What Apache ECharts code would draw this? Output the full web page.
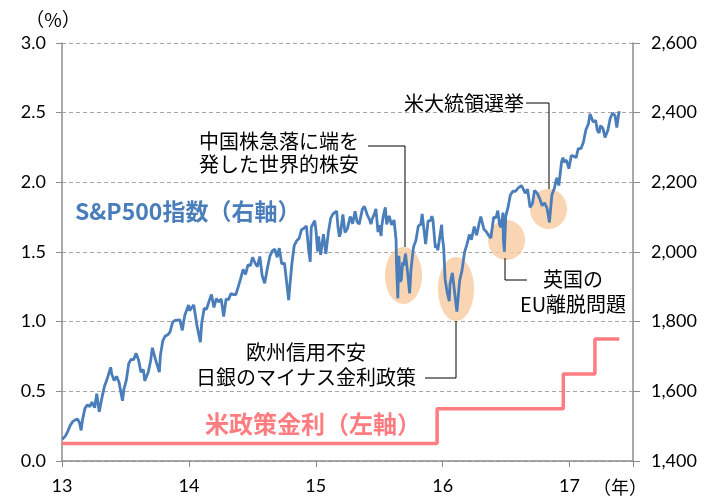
<!DOCTYPE html>
<html>
<head>
<meta charset="utf-8">
<script src="https://cdn.jsdelivr.net/npm/echarts@6/dist/echarts.min.js"></script>
<style>
  html, body { margin: 0; padding: 0; background: #fff; }
  #chart { width: 716px; height: 498px; }
</style>
</head>
<body>
<div id="chart"></div>
<script>
  // S&P500 (right axis) - roughly weekly closes plus the big intraweek lows/highs
  var spxDates = [
    '2013-01-02','2013-01-04','2013-01-11','2013-01-18','2013-01-25','2013-02-01','2013-02-08','2013-02-15','2013-02-20','2013-02-25',
    '2013-03-01','2013-03-08','2013-03-15','2013-03-22','2013-03-28','2013-04-05','2013-04-11','2013-04-18','2013-04-26','2013-05-03',
    '2013-05-10','2013-05-21','2013-05-24','2013-05-31','2013-06-07','2013-06-14','2013-06-24','2013-06-28','2013-07-05','2013-07-12',
    '2013-07-19','2013-07-26','2013-08-02','2013-08-09','2013-08-16','2013-08-23','2013-08-27','2013-09-06','2013-09-13','2013-09-18',
    '2013-09-27','2013-10-08','2013-10-11','2013-10-18','2013-10-25','2013-11-01','2013-11-08','2013-11-15','2013-11-22','2013-11-27',
    '2013-12-06','2013-12-13','2013-12-20','2013-12-31',
    '2014-01-03','2014-01-10','2014-01-15','2014-01-24','2014-02-03','2014-02-07','2014-02-14','2014-02-21','2014-02-28','2014-03-07',
    '2014-03-14','2014-03-21','2014-03-28','2014-04-04','2014-04-11','2014-04-18','2014-04-25','2014-05-02','2014-05-09','2014-05-16',
    '2014-05-23','2014-05-30','2014-06-06','2014-06-13','2014-06-20','2014-06-27','2014-07-03','2014-07-11','2014-07-17','2014-07-24',
    '2014-07-31','2014-08-07','2014-08-15','2014-08-22','2014-08-29','2014-09-05','2014-09-12','2014-09-18','2014-09-25','2014-10-03',
    '2014-10-10','2014-10-15','2014-10-17','2014-10-24','2014-10-31','2014-11-07','2014-11-14','2014-11-21','2014-11-28','2014-12-05',
    '2014-12-12','2014-12-16','2014-12-19','2014-12-29',
    '2015-01-02','2015-01-06','2015-01-09','2015-01-15','2015-01-23','2015-01-30','2015-02-06','2015-02-13','2015-02-20','2015-03-02',
    '2015-03-06','2015-03-10','2015-03-13','2015-03-20','2015-03-26','2015-04-02','2015-04-10','2015-04-17','2015-04-24','2015-04-30',
    '2015-05-06','2015-05-15','2015-05-21','2015-05-29','2015-06-05','2015-06-09','2015-06-12','2015-06-19','2015-06-23','2015-06-29',
    '2015-07-02','2015-07-08','2015-07-10','2015-07-15','2015-07-20','2015-07-24','2015-07-31','2015-08-07','2015-08-11','2015-08-14',
    '2015-08-20','2015-08-21','2015-08-25','2015-08-28','2015-09-01','2015-09-04','2015-09-08','2015-09-11','2015-09-16','2015-09-22',
    '2015-09-28','2015-10-02','2015-10-09','2015-10-16','2015-10-23','2015-10-30','2015-11-03','2015-11-13','2015-11-20','2015-11-27',
    '2015-12-01','2015-12-04','2015-12-11','2015-12-14','2015-12-18','2015-12-29','2015-12-31',
    '2016-01-04','2016-01-08','2016-01-13','2016-01-15','2016-01-20','2016-01-22','2016-01-29','2016-02-01','2016-02-05','2016-02-08',
    '2016-02-11','2016-02-19','2016-02-26','2016-03-04','2016-03-11','2016-03-18','2016-03-24','2016-04-01','2016-04-08','2016-04-15',
    '2016-04-20','2016-04-29','2016-05-06','2016-05-13','2016-05-19','2016-05-27','2016-06-03','2016-06-08','2016-06-13','2016-06-17',
    '2016-06-23','2016-06-24','2016-06-27','2016-07-01','2016-07-08','2016-07-14','2016-07-22','2016-07-29','2016-08-05','2016-08-15',
    '2016-08-19','2016-08-26','2016-09-02','2016-09-09','2016-09-16','2016-09-22','2016-09-30','2016-10-07','2016-10-14','2016-10-21',
    '2016-10-28','2016-11-04','2016-11-11','2016-11-18','2016-11-25','2016-12-01','2016-12-09','2016-12-13','2016-12-16','2016-12-23',
    '2016-12-30',
    '2017-01-06','2017-01-13','2017-01-20','2017-01-26','2017-02-03','2017-02-10','2017-02-17','2017-02-24','2017-03-01','2017-03-10',
    '2017-03-17','2017-03-22','2017-03-27','2017-03-31','2017-04-07','2017-04-13','2017-04-21','2017-04-28','2017-05-05','2017-05-12',
    '2017-05-17','2017-05-22','2017-05-24'
  ];
  var spxValues = [
    1462,1466,1472,1486,1503,1513,1518,1520,1511,1488,
    1518,1551,1561,1556,1569,1553,1593,1541,1582,1614,
    1633,1669,1650,1631,1643,1626,1573,1606,1632,1680,
    1692,1691,1709,1691,1655,1663,1630,1655,1688,1725,
    1691,1655,1703,1745,1759,1762,1771,1798,1804,1807,
    1805,1775,1818,1848,
    1831,1842,1848,1790,1741,1797,1838,1836,1859,1878,
    1841,1866,1857,1865,1815,1865,1863,1881,1878,1878,
    1900,1924,1950,1936,1963,1961,1985,1967,1958,1987,
    1931,1910,1955,1988,2003,2008,1985,2011,1966,1968,
    1906,1862,1887,1964,2018,2032,2039,2064,2068,2075,
    2002,1972,2071,2090,
    2058,2002,2045,1992,2051,1995,2055,2097,2110,2117,
    2071,2044,2053,2108,2056,2067,2102,2081,2117,2086,
    2080,2123,2131,2107,2092,2080,2094,2110,2124,2057,
    2077,2046,2076,2107,2128,2079,2104,2078,2084,2092,
    2035,1971,1867,1989,1914,1921,1970,1961,1995,1943,
    1881,1951,2014,2033,2075,2079,2109,2023,2089,2090,
    2103,2092,2012,2021,2005,2078,2044,
    2012,1922,1890,1880,1859,1907,1940,1939,1880,1853,
    1829,1918,1948,1999,2022,2050,2035,2073,2048,2081,
    2102,2065,2058,2047,2040,2099,2099,2119,2079,2071,
    2113,2037,2001,2103,2130,2163,2175,2174,2183,2191,
    2184,2169,2180,2128,2139,2177,2168,2153,2133,2141,
    2126,2085,2164,2182,2213,2191,2259,2271,2258,2264,
    2239,
    2277,2275,2271,2297,2297,2316,2351,2367,2396,2373,
    2378,2349,2342,2363,2355,2329,2349,2384,2399,2391,
    2357,2394,2404
  ];

  // 米政策金利 (left axis), value holds until the next date
  var fedDates = ['2013-01-01','2015-12-16','2016-12-14','2017-03-15','2017-05-24'];
  var fedRate = [0.125, 0.375, 0.625, 0.875, 0.875];

  // date -> years since 2000 (13 = start of 2013)
  function toYear(s) {
    var t = Date.parse(s + 'T00:00:00Z');
    var y = new Date(t).getUTCFullYear();
    var a = Date.UTC(y, 0, 1), b = Date.UTC(y + 1, 0, 1);
    return y - 2000 + (t - a) / (b - a);
  }

  var blue = '#4a7ebb';
  var pink = '#ff7c80';
  var peach = 'rgba(249,203,160,0.8)';
  var axisGray = '#8c8c8c';
  var numFont = 'Lato';
  var jpFont = '"Noto Sans CJK JP"';

  var myChart = echarts.init(document.getElementById('chart'));

  myChart.setOption({
    animation: false,
    grid: { left: 62, right: 83, top: 43, bottom: 37 },
    xAxis: {
      type: 'value',
      min: 13, max: 17.5, interval: 1,
      axisLine: { lineStyle: { color: axisGray, width: 1.5 } },
      axisTick: { length: 6, lineStyle: { color: axisGray } },
      splitLine: { show: false },
      axisLabel: {
        margin: 16, fontSize: 18, fontFamily: numFont, color: '#000',
        formatter: function (v) { return v % 1 === 0 ? String(v) : ''; }
      }
    },
    yAxis: [
      {
        type: 'value', position: 'left',
        min: 0, max: 3, interval: 0.5,
        axisLine: { show: true, lineStyle: { color: axisGray, width: 1.5 } },
        axisTick: { show: true, length: 6, lineStyle: { color: axisGray } },
        splitLine: { lineStyle: { color: '#a6a6a6', type: [4, 3] } },
        axisLabel: {
          margin: 16, fontSize: 18, fontFamily: numFont, color: '#000',
          formatter: function (v) { return v.toFixed(1); }
        }
      },
      {
        type: 'value', position: 'right',
        min: 1400, max: 2600, interval: 200,
        axisLine: { show: true, lineStyle: { color: axisGray, width: 1.5 } },
        axisTick: { show: true, length: 7, lineStyle: { color: axisGray } },
        splitLine: { show: false },
        axisLabel: {
          margin: 18, fontSize: 18, fontFamily: numFont, color: '#000',
          formatter: function (v) { return v.toLocaleString('en-US'); }
        }
      }
    ],
    series: [
      {
        name: 'S&P500指数',
        type: 'line',
        yAxisIndex: 1,
        showSymbol: false,
        z: 3,
        lineStyle: { color: blue, width: 2.8 },
        itemStyle: { color: blue },
        data: spxDates.map(function (d, i) { return [toYear(d), spxValues[i]]; })
      },
      {
        name: '米政策金利',
        type: 'line',
        yAxisIndex: 0,
        step: 'end',
        showSymbol: false,
        z: 4,
        lineStyle: { color: pink, width: 3.5 },
        itemStyle: { color: pink },
        data: fedDates.map(function (d, i) { return [toYear(d), fedRate[i]]; })
      }
    ],
    graphic: [
      // highlight circles
      { type: 'ellipse', z: 1, shape: { cx: 403.5, cy: 275.5, rx: 18.5, ry: 28.5 }, style: { fill: peach } },
      { type: 'ellipse', z: 1, shape: { cx: 456, cy: 289, rx: 18, ry: 32 }, style: { fill: peach } },
      { type: 'ellipse', z: 1, shape: { cx: 506.5, cy: 240, rx: 18.5, ry: 20 }, style: { fill: peach } },
      { type: 'ellipse', z: 1, shape: { cx: 548.5, cy: 209, rx: 18.5, ry: 20 }, style: { fill: peach } },
      // leader lines
      { type: 'polyline', z: 5, shape: { points: [[368, 146], [405, 146], [405, 247]] }, style: { stroke: '#000', lineWidth: 1, fill: null } },
      { type: 'polyline', z: 5, shape: { points: [[526, 103], [549, 103], [549, 189]] }, style: { stroke: '#000', lineWidth: 1, fill: null } },
      { type: 'polyline', z: 5, shape: { points: [[505, 258], [505, 280], [527, 280]] }, style: { stroke: '#000', lineWidth: 1, fill: null } },
      { type: 'polyline', z: 5, shape: { points: [[425, 378], [456, 378], [456, 321]] }, style: { stroke: '#000', lineWidth: 1, fill: null } },
      // annotations
      { type: 'text', z: 6, style: { x: 279, y: 153, text: '中国株急落に端を\n発した世界的株安', font: '20px ' + jpFont, fill: '#000', textAlign: 'center', textVerticalAlign: 'middle', lineHeight: 23 } },
      { type: 'text', z: 6, style: { x: 524, y: 103, text: '米大統領選挙', font: '20px ' + jpFont, fill: '#000', textAlign: 'right', textVerticalAlign: 'middle' } },
      { type: 'text', z: 6, style: { x: 573, y: 292, text: '英国の\nEU離脱問題', font: '20px ' + jpFont, fill: '#000', textAlign: 'center', textVerticalAlign: 'middle', lineHeight: 25 } },
      { type: 'text', z: 6, style: { x: 306, y: 365, text: '欧州信用不安\n日銀のマイナス金利政策', font: '20px ' + jpFont, fill: '#000', textAlign: 'center', textVerticalAlign: 'middle', lineHeight: 25 } },
      // series names
      { type: 'text', z: 6, style: { x: 75, y: 211, text: 'S&P500指数（右軸）', font: 'bold 23px ' + jpFont, fill: blue, textAlign: 'left', textVerticalAlign: 'middle' } },
      { type: 'text', z: 6, style: { x: 205, y: 424, text: '米政策金利（左軸）', font: 'bold 24px ' + jpFont, fill: pink, textAlign: 'left', textVerticalAlign: 'middle' } },
      // units
      { type: 'text', z: 6, style: { x: 53, y: 20, text: '（%）', font: '19px ' + jpFont, fill: '#000', textAlign: 'center', textVerticalAlign: 'middle' } },
      { type: 'text', z: 6, style: { x: 620, y: 487, text: '（年）', font: '18px ' + jpFont, fill: '#000', textAlign: 'center', textVerticalAlign: 'middle' } }
    ]
  });
</script>
</body>
</html>
